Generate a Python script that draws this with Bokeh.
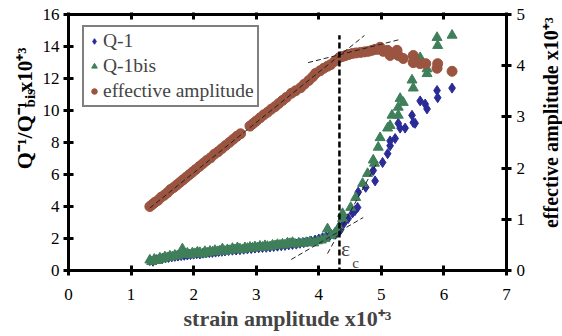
import math
from bokeh.plotting import figure
from bokeh.layouts import row
from bokeh.core.properties import value
from bokeh.models import (Range1d, LinearAxis, FixedTicker, Label, Legend,
                          LegendItem, Arrow)
from bokeh.embed import file_html
from bokeh.resources import INLINE

# ---------------- data ----------------
q1_x = [1.30, 1.35, 1.40, 1.45, 1.50, 1.55, 1.60, 1.65, 1.70, 1.75, 1.80, 1.85,
        1.90, 1.95, 2.00, 2.05, 2.10, 2.15, 2.20, 2.25, 2.30, 2.35, 2.40, 2.45,
        2.50, 2.56, 2.62, 2.68, 2.74, 2.80, 2.86, 2.92, 2.98, 3.04, 3.10, 3.16,
        3.22, 3.28, 3.34, 3.40, 3.46, 3.52, 3.58, 3.64, 3.70, 3.76, 3.82, 3.88,
        3.94, 4.00, 4.06, 4.12, 4.18, 4.24, 4.30, 4.35, 4.40, 4.47, 4.54, 4.58,
        4.62, 4.63, 4.75, 4.87, 4.90, 5.02, 5.10, 5.14, 5.14, 5.22, 5.27, 5.30,
        5.38, 5.49, 5.51, 5.54, 5.62, 5.70, 5.73, 5.89, 5.90, 6.13]
q1_y = [0.62, 0.58, 0.68, 0.72, 0.75, 0.80, 0.82, 0.85, 0.88, 0.90, 0.93, 0.95,
        0.97, 1.00, 1.02, 1.05, 1.03, 1.08, 1.10, 1.12, 1.13, 1.15, 1.18, 1.20,
        1.22, 1.25, 1.27, 1.28, 1.30, 1.33, 1.35, 1.37, 1.40, 1.42, 1.44, 1.45,
        1.47, 1.50, 1.52, 1.55, 1.57, 1.60, 1.63, 1.65, 1.70, 1.74, 1.78, 1.83,
        1.90, 1.97, 2.05, 2.12, 2.20, 2.27, 2.38, 2.55, 2.94, 3.25, 3.60, 3.75,
        3.94, 4.90, 5.20, 6.25, 5.60, 6.75, 7.30, 7.80, 8.10, 8.25, 9.20, 8.90,
        8.90, 9.70, 9.25, 9.20, 10.60, 10.40, 10.10, 11.25, 10.80, 11.40]

q1bis_x = [1.30, 1.33, 1.37, 1.42, 1.46, 1.50, 1.54, 1.58, 1.62, 1.66, 1.70, 1.74,
           1.78, 1.82, 1.86, 1.90, 1.94, 1.98, 2.02, 2.06, 2.10, 2.14, 2.18, 2.22,
           2.26, 2.30, 2.34, 2.38, 2.42, 2.46, 2.50, 2.54, 2.58, 2.62, 2.66, 2.70,
           2.74, 2.78, 2.82, 2.86, 2.90, 2.94, 2.98, 3.02, 3.06, 3.10, 3.14, 3.18,
           3.22, 3.26, 3.30, 3.34, 3.38, 3.42, 3.46, 3.50, 3.54, 3.58, 3.62, 3.68,
           3.74, 3.80, 3.86, 3.92, 3.98, 4.04, 4.10, 4.14, 4.20, 4.26, 4.32, 4.38,
           4.38, 4.51, 4.59, 4.70, 4.78, 4.87, 4.89, 4.95, 4.98, 5.10, 5.14, 5.17,
           5.27, 5.27, 5.30, 5.35, 5.49, 5.51, 5.62, 5.73, 5.73, 5.89, 5.90, 6.13]
q1bis_y = [0.65, 0.55, 0.70, 0.62, 0.78, 0.72, 0.85, 0.80, 0.90, 0.85, 0.95, 0.92,
           1.00, 1.35, 1.02, 1.08, 0.98, 1.10, 1.05, 1.15, 1.12, 1.02, 1.18, 1.10,
           1.20, 1.15, 1.25, 1.18, 1.22, 1.35, 1.20, 1.30, 1.25, 1.38, 1.30, 1.42,
           1.35, 1.30, 1.42, 1.38, 1.45, 1.40, 1.48, 1.42, 1.52, 1.45, 1.55, 1.50,
           1.48, 1.58, 1.55, 1.62, 1.58, 1.65, 1.60, 1.72, 1.68, 1.75, 1.65, 1.72,
           1.70, 1.75, 1.80, 1.72, 1.85, 1.90, 2.00, 2.60, 2.20, 2.35, 2.70, 3.25,
           3.56, 3.94, 4.56, 5.44, 6.06, 6.90, 6.70, 7.70, 8.30, 8.90, 9.06, 9.70,
           9.70, 10.20, 10.75, 10.50, 11.90, 11.40, 13.30, 12.60, 12.30, 14.56, 14.06, 14.70]

eff_x = [1.30, 1.34, 1.38, 1.43, 1.48, 1.53, 1.58, 1.63, 1.68, 1.73, 1.78, 1.83,
         1.88, 1.93, 1.98, 2.03, 2.09, 2.15, 2.21, 2.27, 2.33, 2.39, 2.45, 2.51,
         2.57, 2.63, 2.69, 2.75, 2.90, 2.95, 3.00, 3.06, 3.12, 3.18, 3.24, 3.30,
         3.36, 3.42, 3.48, 3.56, 3.63, 3.71, 3.77, 3.84, 3.90, 3.95, 4.02, 4.08,
         4.14, 4.19, 4.26, 4.33, 4.38, 4.43, 4.48, 4.54, 4.60, 4.67, 4.73, 4.79,
         4.85, 4.90, 4.94, 4.98, 5.03, 5.10, 5.14, 5.25, 5.27, 5.35, 5.51, 5.51,
         5.62, 5.71, 5.89, 5.90, 6.13]
eff_y = [1.25, 1.29, 1.33, 1.37, 1.43, 1.47, 1.52, 1.58, 1.62, 1.67, 1.72, 1.77,
         1.82, 1.87, 1.92, 1.97, 2.03, 2.09, 2.15, 2.20, 2.27, 2.32, 2.38, 2.44,
         2.50, 2.56, 2.62, 2.67, 2.82, 2.87, 2.92, 2.98, 3.04, 3.09, 3.15, 3.20,
         3.26, 3.32, 3.38, 3.46, 3.51, 3.57, 3.64, 3.71, 3.78, 3.85, 3.90, 3.95,
         3.99, 4.02, 4.09, 4.16, 4.18, 4.20, 4.22, 4.24, 4.25, 4.26, 4.27, 4.28,
         4.30, 4.32, 4.32, 4.36, 4.28, 4.30, 4.20, 4.30, 4.20, 4.14, 4.20, 4.06,
         4.04, 4.04, 3.95, 4.04, 3.89]

fit_eff_x, fit_eff_y = [1.30, 4.73], [1.22, 4.59]       # right axis
plateau_x, plateau_y = [3.83, 5.29], [4.06, 4.51]       # right axis
low_x, low_y = [3.56, 4.71], [0.69, 3.31]               # left axis
steep_x, steep_y = [4.14, 4.94], [1.06, 6.80]           # left axis
eps_c = 4.33
eps_line_y = [-0.75, 14.7]

x_ticks = [0, 1, 2, 3, 4, 5, 6, 7]
left_ticks = [0, 2, 4, 6, 8, 10, 12, 14, 16]
right_ticks = [0, 1, 2, 3, 4, 5]

BLUE = "#2B2B98"
GREEN = "#3F7F5A"
BROWN = "#9A5440"
SERIF = "Liberation Serif"

H = 336
WL, WR = 39, 34
WM = 562 - WL - WR

# ---------------- main figure ----------------
p = figure(width=WM, height=H, x_range=Range1d(0, 7), y_range=Range1d(0, 16),
           output_backend="svg", toolbar_location=None,
           x_axis_location=None, y_axis_location=None)
p.min_border_left = 66 - WL
p.min_border_right = WM - (507 - WL)
p.min_border_top = 14
p.min_border_bottom = 66
p.xgrid.visible = False
p.ygrid.visible = False
p.outline_line_color = None
p.background_fill_color = "white"
p.border_fill_color = "white"
p.extra_y_ranges = {"eff": Range1d(0, 5)}


def make_axis(ticks, standoff, **kw):
    return LinearAxis(ticker=FixedTicker(ticks=ticks), axis_line_width=3,
                      axis_line_color="black", major_tick_line_width=3,
                      major_tick_line_color="black", major_tick_in=5, major_tick_out=5,
                      minor_tick_line_color=None, major_label_standoff=standoff,
                      major_label_text_font=SERIF, major_label_text_font_size="17px",
                      major_label_text_color="black", **kw)


bottom_axis = make_axis(x_ticks, 13)
bottom_axis.axis_label = "strain amplitude x10⁺³"
bottom_axis.axis_label_text_font = SERIF
bottom_axis.axis_label_text_font_style = "bold"
bottom_axis.axis_label_text_font_size = "22px"
bottom_axis.axis_label_standoff = 3
p.add_layout(bottom_axis, "below")

left_axis = make_axis(left_ticks, 4)
p.add_layout(left_axis, "left")

right_axis = make_axis(right_ticks, 5, y_range_name="eff")
p.add_layout(right_axis, "right")

top_axis = make_axis(x_ticks, 0)
top_axis.major_tick_out = 2
top_axis.major_label_overrides = {t: "" for t in x_ticks}
p.add_layout(top_axis, "above")

r_q1 = p.scatter(q1_x, q1_y, marker="diamond", size=10,
                 fill_color=BLUE, line_color=BLUE)
r_q1bis = p.scatter(q1bis_x, q1bis_y, marker="triangle", size=10,
                    fill_color=GREEN, line_color=GREEN)
r_eff = p.scatter(eff_x, eff_y, marker="circle", size=10, fill_color=BROWN,
                  line_color=BROWN, y_range_name="eff")

dash_thin = dict(line_color="#222222", line_width=1, line_dash="5 3")
p.line(fit_eff_x, fit_eff_y, y_range_name="eff", **dash_thin)
p.line(plateau_x, plateau_y, y_range_name="eff", **dash_thin)
p.line(low_x, low_y, **dash_thin)
p.line(steep_x, steep_y, **dash_thin)

p.add_layout(Arrow(end=None, x_start=eps_c, y_start=eps_line_y[0], x_end=eps_c,
                   y_end=eps_line_y[1], line_color="black", line_width=2.5,
                   line_dash="6 3"))

p.add_layout(Label(x=4.43, y=1.35, text="ε", text_font=SERIF, text_font_size="22px",
                   text_align="center", text_baseline="middle"))
p.add_layout(Label(x=4.59, y=0.5, text="c", text_font=SERIF, text_font_size="15px",
                   text_align="center", text_baseline="middle"))

legend = Legend(items=[LegendItem(label="Q-1", renderers=[r_q1]),
                       LegendItem(label="Q-1bis", renderers=[r_q1bis]),
                       LegendItem(label="effective amplitude", renderers=[r_eff])],
                location=(14, 163))
legend.label_text_font = SERIF
legend.label_text_font_size = "19.5px"
legend.label_height = 20
legend.glyph_height = 20
legend.glyph_width = 14
legend.label_standoff = 2
legend.spacing = 3
legend.padding = 3
legend.margin = 0
legend.border_line_color = "black"
legend.border_line_width = 2
legend.background_fill_alpha = 1
p.add_layout(legend)


# ---------------- side strips holding the rotated axis titles ----------------
def side_strip(w):
    s = figure(width=w, height=H, x_range=Range1d(0, w), y_range=Range1d(0, H),
               output_backend="svg", toolbar_location=None,
               x_axis_location=None, y_axis_location=None, min_border=0)
    s.xgrid.visible = False
    s.ygrid.visible = False
    s.outline_line_color = None
    s.background_fill_color = "white"
    s.border_fill_color = "white"
    return s


def vtext(s, text, xp, yp, size, align="left"):
    # xp: position of the text's bottom edge in the strip, yp: pixels from the top
    s.text(x=[xp], y=[H - yp], text=[text], angle=math.pi / 2,
           text_font=value(SERIF), text_font_style="bold", text_font_size=size,
           text_align=align, text_baseline="bottom", text_color="black")


pl = side_strip(WL)
vtext(pl, "Q⁻¹/Q⁻¹", 36, 203, "22px")
vtext(pl, "bis", 37.5, 122, "15px")
vtext(pl, "x10⁺³", 36, 102, "21px")

pr = side_strip(WR)
vtext(pr, "effective amplitude x10⁺³", 33, 142, "20px", align="center")

layout = row(pl, p, pr, spacing=0)
open("out.html", "w").write(file_html(layout, INLINE))
